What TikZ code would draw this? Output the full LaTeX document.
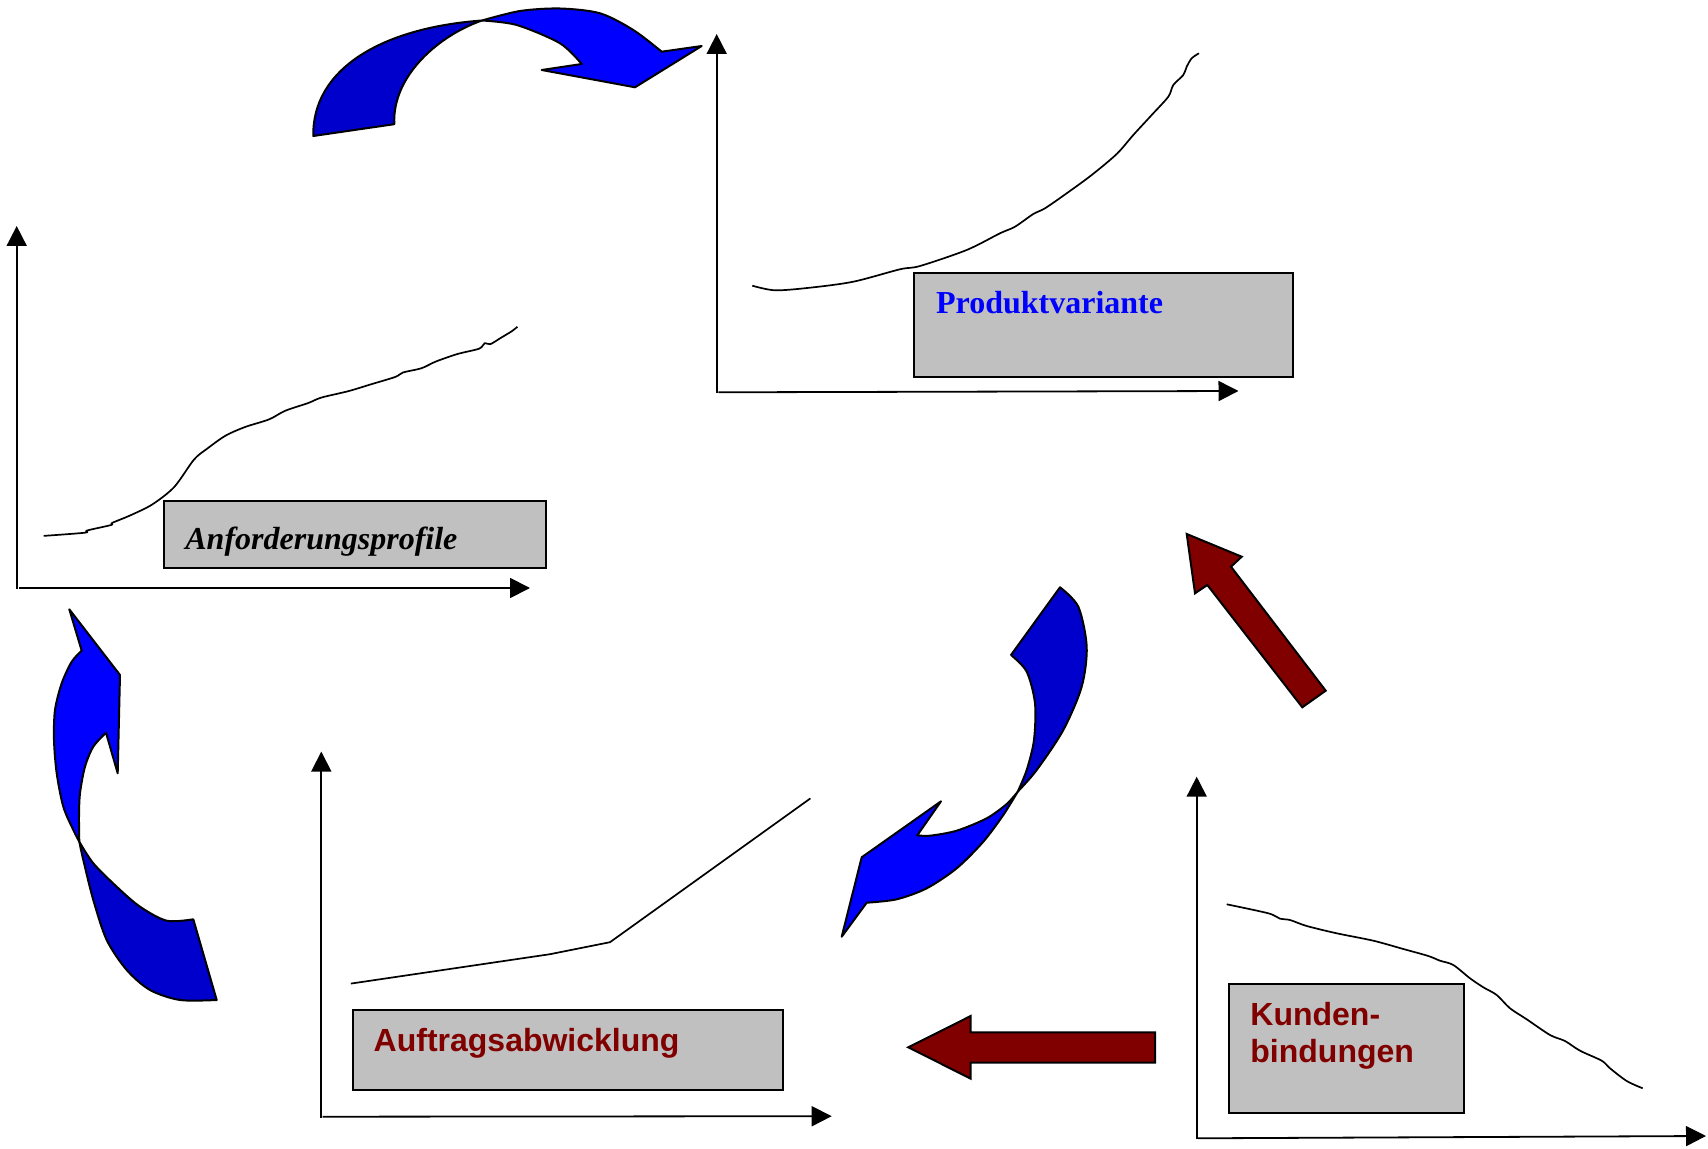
\documentclass[tikz,border=0pt]{standalone}
\usepackage{fontspec}
\setmainfont{Liberation Serif}
\newfontfamily\arialfont{Liberation Sans}
\usetikzlibrary{arrows.meta}
\definecolor{brightblue}{HTML}{0000FF}
\definecolor{deepblue}{HTML}{0000CC}
\definecolor{maroonred}{HTML}{800000}
\definecolor{panelgray}{HTML}{C0C0C0}

\begin{document}
\begin{tikzpicture}[x=0.5pt,y=-0.5pt,
  axisline/.style={line width=0.9pt, -{Triangle[length=10pt,width=10pt]}},
  trend/.style={line width=0.85pt, line join=round},
  panel/.style={draw=black, line width=1pt, fill=panelgray},
  bandfront/.style={draw=black, line width=1pt, fill=brightblue, line join=round},
  bandback/.style={draw=black, line width=1pt, fill=deepblue, line join=round},
  block/.style={draw=black, line width=1pt, fill=maroonred, line join=miter},
  tagtext/.style={anchor=base west, inner sep=0pt, font=\fontsize{16}{18.5}\selectfont\bfseries},
]
\useasboundingbox (0,0) rectangle (1708,1149);

% ---------- chart 1: Anforderungsprofile ----------
\coordinate (o1y) at (16.7,589);
\coordinate (y1) at (16.7,226);
\coordinate (o1x) at (19,588);
\coordinate (x1) at (530,588);
\draw[axisline] (o1y) -- (y1);
\draw[axisline] (o1x) -- (x1);
\draw[trend] plot[smooth, tension=0.5] coordinates {
  (43.6,535.9) (85,532.7) (87.1,530.5) (111.1,525) (112.2,522.9) (130.7,515.2)
  (152.5,504.3) (174.3,486.9) (193.9,459.7) (207,448.8) (225.5,435.7) (245.1,427)
  (269,419.4) (285.4,410.7) (308.3,403) (321.3,397.6) (348.6,391.1) (370.4,384.5)
  (395.4,376.9) (403,372.5) (421.6,368.2) (435.7,361.6) (457.5,354) (479.3,348.6)
  (484.7,343.1) (490.2,344.2) (501.1,337.7) (512,331.1) (517.4,326.8)};
\draw[panel] (164,501) rectangle (546,568);
\node[tagtext, font=\fontsize{16}{18.5}\selectfont\bfseries\itshape] (t1) at (185,549.3) {Anforderungsprofile};

% ---------- chart 2: Produktvariante ----------
\coordinate (o2y) at (716.7,393);
\coordinate (y2) at (716.7,34);
\coordinate (o2x) at (718.3,392.3);
\coordinate (x2) at (1238.5,391);
\draw[axisline] (o2y) -- (y2);
\draw[axisline] (o2x) -- (x2);
\draw[trend] plot[smooth, tension=0.5] coordinates {
  (752.3,285.7) (775,290.3) (810,287.7) (853.3,281.7) (900,269.3) (920,266)
  (966.7,250) (1000,233.3) (1015,226.7) (1033.3,214) (1045,208.3) (1066.7,193.3)
  (1091.7,175) (1116.7,154) (1133.3,135) (1151.7,115) (1168.3,96.7) (1173.3,85)
  (1183.3,75) (1186.7,66.7) (1191.7,58.3) (1199,53.3)};
\draw[panel] (914.3,272.7) rectangle (1293,376.7);
\node[tagtext, text=brightblue] (t2) at (935.7,313.3) {Produktvariante};

% ---------- chart 3: Auftragsabwicklung ----------
\coordinate (o3y) at (321.3,1117.5);
\coordinate (y3) at (321.3,751.6);
\coordinate (o3x) at (322.5,1116.7);
\coordinate (x3) at (831.7,1116.2);
\draw[axisline] (o3y) -- (y3);
\draw[axisline] (o3x) -- (x3);
\draw[trend] (350.8,983.6) -- (550,954.2) -- (610,942.2) -- (810.4,798.4);
\draw[panel] (353.3,1010) rectangle (783.3,1090);
\node[tagtext, font=\fontsize{16}{18.5}\selectfont\arialfont\bfseries, text=maroonred] (t3) at (373.3,1051.7) {Auftragsabwicklung};

% ---------- chart 4: Kundenbindungen ----------
\coordinate (o4y) at (1196.7,1139);
\coordinate (y4) at (1196.7,776.7);
\coordinate (o4x) at (1198,1138.3);
\coordinate (x4) at (1706,1136);
\draw[axisline] (o4y) -- (y4);
\draw[axisline] (o4x) -- (x4);
\draw[trend] plot[smooth, tension=0.5] coordinates {
  (1226.7,904.3) (1268.3,913.3) (1280,918.7) (1290,920) (1306.7,926) (1336.7,933.3)
  (1373.3,940.7) (1403.3,949) (1428.3,956) (1440,960.7) (1453.3,965) (1470,978.3)
  (1483.3,987.3) (1496.7,995) (1510,1008.3) (1526.7,1019.3) (1550,1035) (1565,1041)
  (1580,1050.7) (1601.7,1060.7) (1610,1068.3) (1626.7,1081) (1642.7,1088.3)};
\draw[panel] (1229,984.3) rectangle (1464,1112.7);
\node[tagtext, font=\fontsize{16}{18.5}\selectfont\arialfont\bfseries, text=maroonred] (t4) at (1250,1025.7)
  {\parbox[t]{120pt}{\raggedright Kunden-\\bindungen}};

% ---------- curved blue arrow, top ----------
\filldraw[bandback] (313.3,136) .. controls (312,70) and (380,28) .. (482,20.5)
  .. controls (440,35) and (392,75) .. (394.3,124.2) -- cycle;
\filldraw[bandfront] (482,20.5) -- plot[smooth] coordinates {
  (482,20.5) (520,11) (560,8.5) (600,13.3) (633.3,30) (661.7,51.7)}
  -- (701.7,46) -- (635,87.3) -- (541.7,70) -- (581.7,64)
  -- plot[smooth] coordinates {(581.7,64) (560,43.3) (516.7,25) (482,20.5)} -- cycle;

% ---------- curved blue arrow, left ----------
\filldraw[bandfront] (106,732.7) -- (117.7,773.3) -- (120,675) -- (69.3,609.3) -- (81.7,650.7)
  -- plot[smooth] coordinates {(81.7,650.7) (71.7,661.7) (61.7,683.3) (55,710) (54,740)
     (56.7,773.3) (63.3,806.7) (73.3,830) (79.3,841.7)}
  -- plot[smooth] coordinates {(79.3,841.7) (79,816.7) (80,793.3) (85,766.7) (93.3,746.7) (106,732.7)} -- cycle;
\filldraw[bandback] (79.3,841.7) -- plot[smooth] coordinates {
  (79.3,841.7) (83.3,860) (93.3,900) (106.7,940) (126.7,970) (150,990) (180,1000) (216.7,1000)}
  -- (193.3,919.3)
  -- plot[smooth] coordinates {(193.3,919.3) (166.7,920.7) (140,906.7) (116.7,886.7) (93.3,863.3) (79.3,841.7)} -- cycle;

% ---------- curved blue arrow, right ----------
\filldraw[bandback] (1060,587.3) -- plot[smooth] coordinates {
  (1060,587.3) (1078.3,606.7) (1086.7,646.7) (1081.7,686.7) (1063.3,730) (1036.7,770) (1017.7,791.7)}
  -- plot[smooth] coordinates {(1017.7,791.7) (1026.7,770) (1034,740) (1035,703.3) (1026.7,671.7) (1011,655)} -- cycle;
\filldraw[bandfront] (1017.7,791.7) -- plot[smooth] coordinates {
  (1017.7,791.7) (1006.7,804) (986.7,818.3) (956.7,830.7) (930,835.7) (917.3,835.3)}
  -- (941,801.3) -- (861.7,857.3) -- (841.7,936.7) -- (866.7,902.7)
  -- plot[smooth] coordinates {(866.7,902.7) (896.7,899.3) (926.7,888.3) (956.7,868.3) (983.3,841.7) (1003.3,815) (1017.7,791.7)} -- cycle;

% ---------- straight dark red arrows ----------
\filldraw[block] (1186.7,534) -- (1241.7,556.7) -- (1231,566.7) -- (1325.7,690.7)
  -- (1302.3,707.3) -- (1207.3,585) -- (1195,593.3) -- cycle;
\filldraw[block] (908.3,1047.3) -- (970.7,1016) -- (970.7,1032.3) -- (1155,1032.3)
  -- (1155,1062.7) -- (970.7,1062.7) -- (970.7,1078.7) -- cycle;
\end{tikzpicture}
\end{document}
